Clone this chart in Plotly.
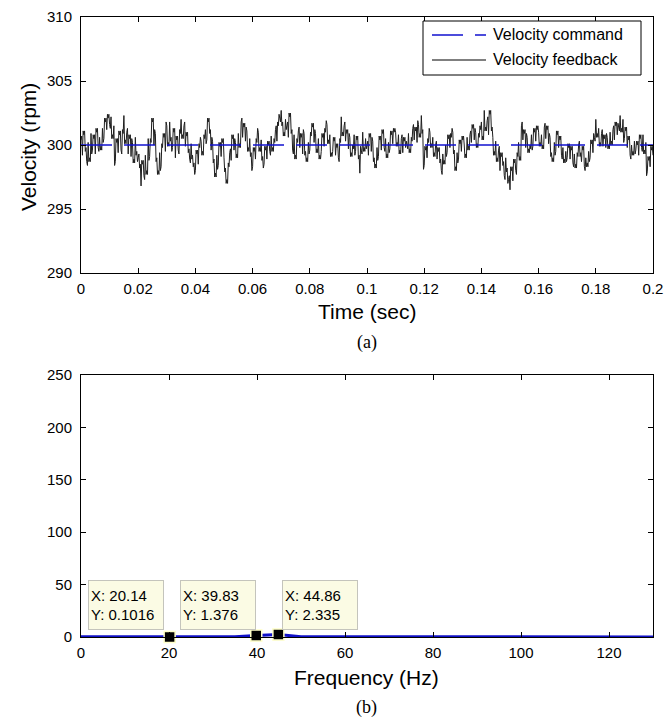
import plotly.graph_objects as go

# ---------------- data ----------------
t_step = 0.0005  # main samples every 0.5 ms, extra samples half-way between
velocity_feedback = [
    300.4, 299.2, 300.8, 299.5, 298.7, 300.2, 299.0, 300.9, 299.6, 300.5, 299.3, 301.0, 299.8, 300.6, 299.9, 301.3, 300.5, 301.8, 301.2, 302.1,
    301.6, 302.2, 300.8, 301.5, 298.7, 300.2, 299.4, 300.8, 299.6, 301.2, 302.3, 300.4, 301.0, 299.3, 300.5, 299.1, 300.2, 298.9, 300.6, 299.5,
    299.0, 298.2, 296.8, 298.5, 297.6, 299.2, 298.0, 300.5, 299.1, 300.2, 301.8, 300.0, 300.9, 299.0, 298.0, 299.4, 298.3, 299.8, 300.6, 299.5,
    301.5, 300.2, 301.8, 300.6, 299.8, 301.0, 299.0, 300.4, 299.6, 301.2, 302.0, 300.8, 301.5, 299.9, 300.7, 299.4, 298.9, 300.1, 299.2, 298.6,
    298.0, 299.3, 298.5, 299.8, 300.3, 299.5, 300.8, 301.2, 300.4, 301.8, 300.9, 299.6, 300.3, 298.9, 297.8, 299.2, 298.4, 299.9, 299.1, 300.2,
    299.0, 298.2, 297.3, 298.6, 299.4, 298.8, 300.5, 299.6, 300.2, 299.3, 300.9, 300.1, 301.8, 300.6, 301.4, 300.3, 301.1, 299.8, 300.5, 299.4,
    298.3, 299.5, 298.9, 300.2, 301.0, 299.8, 300.4, 299.1, 298.5, 299.6, 298.9, 300.0, 299.5, 300.7, 299.8, 300.5, 301.2, 300.3, 301.5, 302.1,
    302.7, 301.8, 301.0, 302.0, 301.5, 300.6, 302.2, 300.9, 299.6, 300.8, 299.2, 300.5, 301.1, 299.8, 300.6, 299.3, 300.9, 299.5, 299.0, 300.2,
    299.6, 300.7, 301.4, 300.2, 300.9, 299.7, 300.5, 299.2, 299.5, 300.6, 299.9, 301.0, 301.6, 300.4, 300.8, 299.4, 299.5, 300.3, 299.2, 299.8,
    299.0, 300.5, 302.2, 301.0, 301.5, 300.3, 300.9, 299.7, 300.6, 299.4, 300.0, 300.8, 299.5, 300.4, 298.9, 297.8, 299.6, 301.0, 299.8, 300.5,
    300.0, 299.2, 300.6, 299.5, 300.3, 299.0, 298.5, 299.8, 299.1, 300.4, 299.6, 300.9, 299.8, 300.5, 299.3, 300.2, 299.7, 300.8, 300.1, 301.0,
    301.0, 300.2, 300.8, 299.6, 300.5, 299.4, 300.3, 299.8, 300.0, 300.9, 299.7, 300.6, 301.3, 300.4, 301.1, 300.2, 301.6, 300.9, 302.3, 301.2,
    298.4, 299.6, 299.0, 300.2, 301.0, 300.1, 300.6, 299.4, 300.0, 298.9, 299.5, 298.6, 298.0, 299.3, 298.8, 300.0, 299.4, 300.5, 299.8, 300.6,
    301.0, 299.6, 298.3, 299.4, 298.9, 300.1, 299.5, 300.4, 300.0, 299.3, 300.6, 299.9, 300.8, 300.2, 301.3, 300.4, 301.0, 300.1, 300.9, 301.5,
    301.8, 300.7, 302.7, 301.4, 301.9, 300.8, 302.4, 301.1, 300.6, 299.5, 300.3, 299.0, 299.6, 298.0, 299.1, 298.4, 297.6, 299.0, 298.2, 297.3,
    296.5, 298.0, 297.2, 298.6, 298.0, 299.4, 300.2, 299.1, 301.5, 300.4, 300.9, 299.8, 300.6, 299.7, 300.0, 300.8, 299.9, 301.0, 300.3, 301.2,
    301.0, 300.2, 300.8, 300.0, 301.4, 300.5, 301.2, 300.1, 300.6, 299.4, 299.0, 300.2, 299.5, 300.8, 299.8, 300.4, 299.2, 299.8, 298.9, 299.5,
    299.0, 299.8, 298.9, 299.6, 298.6, 299.3, 298.5, 299.4, 300.0, 299.1, 298.7, 299.6, 298.3, 299.0, 298.6, 299.5, 299.0, 300.1, 299.4, 300.6,
    302.0, 300.9, 301.3, 300.2, 300.9, 299.9, 300.5, 299.8, 300.6, 300.0, 301.0, 300.3, 301.2, 300.4, 301.5, 300.8, 301.4, 302.3, 301.3, 302.0,
    300.5, 301.1, 299.8, 300.4, 299.2, 300.0, 299.5, 300.3, 299.6, 300.0, 299.2, 300.5, 299.8, 300.8, 299.6, 300.2, 297.9, 298.8, 298.3, 299.6,
    299.2,
]
velocity_feedback_mid = [
    300.7, 301.1, 301.1, 299.8, 298.4, 298.7, 298.7, 299.3, 300.8, 300.8, 301.3, 301.3, 299.5, 299.6, 299.6, 300.2, 302.1, 302.1, 302.4, 302.4,
    301.3, 300.5, 300.5, 298.4, 300.5, 300.5, 301.1, 301.1, 299.3, 300.9, 300.1, 300.1, 301.3, 300.8, 300.8, 300.5, 298.6, 298.6, 299.2, 298.7,
    299.3, 298.5, 298.8, 298.8, 297.3, 297.7, 297.7, 298.8, 300.5, 302.1, 302.1, 301.2, 298.7, 297.7, 297.7, 298.0, 300.1, 300.9, 300.9, 301.8,
    299.9, 299.9, 300.3, 299.5, 301.3, 301.3, 300.7, 300.7, 299.3, 300.9, 300.5, 300.5, 301.8, 301.0, 301.0, 299.7, 298.6, 298.9, 298.3, 297.7,
    299.6, 299.6, 300.1, 300.6, 299.2, 299.2, 300.5, 300.1, 302.1, 302.1, 301.2, 300.6, 298.6, 297.5, 297.5, 298.1, 300.2, 300.2, 300.5, 300.5,
    297.9, 297.0, 297.0, 298.3, 299.7, 300.8, 300.8, 300.5, 299.0, 299.0, 299.8, 299.8, 302.1, 301.7, 301.7, 301.4, 299.5, 299.5, 299.1, 298.0,
    299.8, 299.8, 300.5, 301.3, 299.5, 299.5, 298.8, 298.2, 299.9, 299.9, 300.3, 300.3, 299.2, 299.5, 299.5, 300.2, 301.5, 301.8, 302.4, 301.8,
    301.5, 300.7, 300.7, 301.2, 301.8, 302.5, 302.5, 301.2, 299.3, 298.9, 298.9, 300.2, 301.4, 300.9, 300.9, 301.2, 299.2, 298.7, 298.7, 299.3,
    301.0, 301.7, 301.7, 301.2, 299.4, 299.4, 298.9, 298.9, 300.9, 300.9, 301.3, 301.9, 300.1, 300.1, 299.1, 299.1, 300.6, 300.6, 300.1, 300.1,
    298.7, 300.2, 300.7, 300.7, 301.8, 301.2, 301.2, 300.9, 299.1, 299.1, 299.7, 299.2, 300.7, 300.7, 299.2, 299.9, 299.3, 299.5, 299.5, 299.7,
    300.3, 300.9, 300.9, 300.6, 298.7, 298.2, 298.2, 298.8, 300.7, 300.7, 301.2, 301.2, 299.5, 299.0, 299.0, 299.4, 301.1, 301.1, 301.3, 301.3,
    299.9, 299.9, 299.3, 299.3, 300.8, 300.6, 300.6, 300.3, 299.7, 299.4, 299.4, 300.3, 301.6, 301.4, 301.4, 301.9, 300.6, 300.6, 300.9, 298.1,
    299.9, 299.9, 300.5, 301.3, 299.8, 299.8, 299.1, 299.1, 300.3, 299.8, 299.8, 298.9, 297.7, 298.5, 298.5, 299.1, 300.8, 300.8, 300.9, 301.3,
    299.3, 298.0, 298.0, 298.6, 300.4, 300.4, 300.7, 300.7, 299.0, 299.0, 299.6, 299.6, 301.1, 301.6, 301.6, 301.3, 299.8, 299.8, 300.6, 301.2,
    300.4, 300.4, 301.1, 301.1, 302.2, 302.7, 302.7, 301.4, 299.2, 299.2, 298.7, 298.7, 299.9, 299.4, 299.4, 298.7, 297.3, 297.9, 297.0, 297.6,
    298.3, 298.3, 298.9, 298.9, 297.7, 299.1, 298.8, 298.8, 301.8, 301.2, 301.2, 300.9, 299.4, 299.4, 299.7, 299.6, 301.3, 301.3, 301.5, 301.5,
    299.9, 299.9, 299.7, 299.7, 301.7, 301.5, 301.5, 300.9, 299.1, 298.7, 298.7, 299.2, 301.1, 301.1, 300.7, 300.7, 298.9, 298.6, 298.6, 298.7,
    300.1, 300.1, 299.9, 299.9, 298.3, 298.2, 298.2, 299.1, 300.3, 299.4, 299.9, 299.9, 298.0, 298.3, 298.3, 298.7, 300.4, 300.4, 300.9, 300.3,
    300.6, 300.6, 299.9, 299.9, 301.2, 300.8, 300.8, 300.9, 299.7, 299.7, 300.0, 300.0, 301.5, 301.8, 301.8, 301.7, 301.1, 301.0, 301.0, 300.2,
    301.4, 301.4, 300.7, 300.7, 298.9, 299.2, 299.2, 299.3, 300.3, 300.3, 300.8, 300.8, 299.5, 299.3, 299.3, 297.6, 299.1, 299.1, 299.9, 299.9,
]
command_time = [0.0, 0.2]
velocity_command = [300, 300]

freq_hz = [0, 5, 10, 15, 20.14, 25, 30, 35, 39.83, 44.86, 50, 60, 70, 80, 90, 100, 110, 120, 130]
magnitude = [0.3, 0.2, 0.15, 0.1, 0.1016, 0.1, 0.2, 0.3, 1.376, 2.335, 0.3, 0.2, 0.1, 0.1, 0.1, 0.1, 0.1, 0.1, 0.1]

tip_x = [20.14, 39.83, 44.86]
tip_y = [0.1016, 1.376, 2.335]
tip_box_left = [1.5, 22.6, 45.7]

# merge main samples and half-step samples in time order
time_s, velocity_fb = [], []
for i, v in enumerate(velocity_feedback):
    time_s.append(round(i * t_step, 5))
    velocity_fb.append(v)
    if i < len(velocity_feedback_mid):
        time_s.append(round(i * t_step + t_step / 2, 5))
        velocity_fb.append(velocity_feedback_mid[i])

# ---------------- layout helpers ----------------
W, H = 672, 721
def px(x):
    return x / W
def py(y):
    return 1 - y / H

BLUE = "#1212d0"
DASH = "31px,12px"

fig = go.Figure()
fig.add_trace(go.Scatter(x=time_s, y=velocity_fb, mode="lines", name="Velocity feedback",
                         line=dict(color="#1e1e1e", width=1), showlegend=False,
                         xaxis="x", yaxis="y"))
fig.add_trace(go.Scatter(x=command_time, y=velocity_command, mode="lines", name="Velocity command",
                         line=dict(color=BLUE, width=1.6, dash=DASH), showlegend=False,
                         xaxis="x", yaxis="y"))

fig.add_trace(go.Scatter(x=freq_hz, y=magnitude, mode="lines", showlegend=False,
                         line=dict(color="#1010c8", width=3),
                         xaxis="x2", yaxis="y2"))
fig.add_trace(go.Scatter(x=tip_x, y=tip_y, mode="markers", showlegend=False,
                         marker=dict(symbol="square", size=11, color="black",
                                     line=dict(color="#ffffc8", width=1.5)),
                         cliponaxis=False, xaxis="x2", yaxis="y2"))

FONT = "Liberation Sans, Arial, Helvetica, sans-serif"
font_axis = dict(family=FONT, size=15, color="black")
axis_common = dict(showline=True, linecolor="black", linewidth=1, mirror="ticks",
                   ticks="inside", ticklen=5, tickcolor="black", showgrid=False,
                   zeroline=False, tickfont=font_axis, automargin=False)

xdom = [px(81), px(653)]
fig.update_layout(
    width=W, height=H,
    margin=dict(l=0, r=0, t=0, b=0),
    paper_bgcolor="white", plot_bgcolor="white",
    showlegend=False,
    xaxis=dict(domain=xdom, range=[0, 0.2],
               tickvals=[0, 0.02, 0.04, 0.06, 0.08, 0.1, 0.12, 0.14, 0.16, 0.18, 0.2],
               ticktext=["0", "0.02", "0.04", "0.06", "0.08", "0.1", "0.12", "0.14", "0.16", "0.18", "0.2"],
               anchor="y", ticklabelstandoff=2, **axis_common),
    yaxis=dict(domain=[py(273), py(17)], range=[290, 310], tickvals=[290, 295, 300, 305, 310],
               anchor="x", ticklabelstandoff=5, **axis_common),
    xaxis2=dict(domain=xdom, range=[0, 130], tickvals=[0, 20, 40, 60, 80, 100, 120],
                anchor="y2", ticklabelstandoff=2, **axis_common),
    yaxis2=dict(domain=[py(637), py(375)], range=[0, 250], tickvals=[0, 50, 100, 150, 200, 250],
                anchor="x2", ticklabelstandoff=5, **axis_common),
)

# ---- legend box drawn by hand (MATLAB style) ----
shapes = [
    dict(type="rect", xref="paper", yref="paper", x0=px(423), x1=px(641), y0=py(75), y1=py(21),
         line=dict(color="black", width=1), fillcolor="white", layer="above"),
    dict(type="line", xref="paper", yref="paper", x0=px(432), x1=px(486), y0=py(35), y1=py(35),
         line=dict(color=BLUE, width=1.6, dash=DASH), layer="above"),
    dict(type="line", xref="paper", yref="paper", x0=px(432), x1=px(486), y0=py(60), y1=py(60),
         line=dict(color="black", width=1.2), layer="above"),
]
fig.update_layout(shapes=shapes)

ann = []
leg_font = dict(family=FONT, size=16, color="black")
ann.append(dict(text="Velocity command", x=px(491), y=py(35), xref="paper", yref="paper",
                xanchor="left", yanchor="middle", showarrow=False, font=leg_font))
ann.append(dict(text="Velocity feedback", x=px(491), y=py(60), xref="paper", yref="paper",
                xanchor="left", yanchor="middle", showarrow=False, font=leg_font))

title_font = dict(family=FONT, size=21, color="black")
serif_font = dict(family="Liberation Serif, Times New Roman, serif", size=18, color="black")
def centered(text, x, y, font, angle=0):
    return dict(text=text, x=px(x), y=py(y), xref="paper", yref="paper",
                xanchor="center", yanchor="middle", showarrow=False,
                textangle=angle, font=font)
ann.append(centered("Velocity (rpm)", 28, 147, title_font, -90))
ann.append(centered("Time (sec)", 367, 311, title_font))
ann.append(centered("(a)", 367, 342, serif_font))
ann.append(centered("Frequency (Hz)", 367, 677, title_font))
ann.append(centered("(b)", 367, 707, serif_font))

tip_font = dict(family=FONT, size=15, color="black")
for bx, x, y in zip(tip_box_left, tip_x, tip_y):
    ann.append(dict(text=f"X: {x:g}<br>Y: {y:g}", x=bx, y=54, xref="x2", yref="y2",
                    xanchor="left", yanchor="top", align="left", valign="middle",
                    width=70, height=44, showarrow=False,
                    bgcolor="#fbfbe4", bordercolor="#c4c4bc", borderwidth=1, borderpad=2,
                    font=tip_font))
fig.update_layout(annotations=ann)

fig.write_html("out.html")
